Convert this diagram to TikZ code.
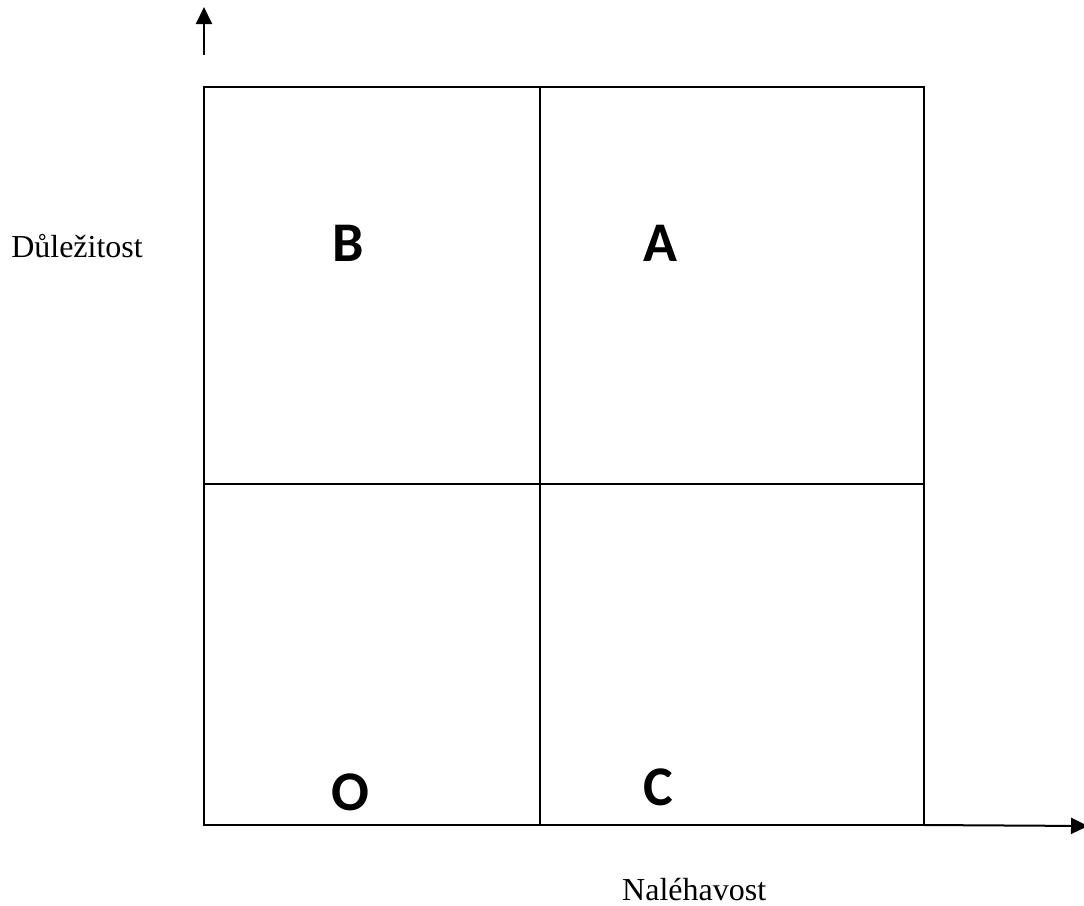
\documentclass[tikz,border=0pt]{standalone}
\usepackage{fontspec}
\setmainfont{Liberation Serif}
\newfontfamily\quadfont{Carlito}
\usetikzlibrary{arrows.meta}

\begin{document}
\begin{tikzpicture}[
  x=1pt,
  y=-1pt,
  grid line/.style={line width=2pt},
  axis arrow/.style={
    line width=2pt,
    -{Triangle[width=16pt,length=17pt]}
  },
  quadrant label/.style={
    inner sep=0pt,
    font=\quadfont\bfseries\fontsize{56}{60}\selectfont
  },
  axis label/.style={
    inner sep=0pt,
    font=\fontsize{32}{38}\selectfont
  }
]
  \useasboundingbox (0,0) rectangle (1084,905);
  \coordinate (nw) at (204,87);
  \coordinate (se) at (924,825);
  \coordinate (mid) at (540,484);
  \draw[grid line] (nw) rectangle (se);
  \draw[grid line] (nw -| mid) -- (se -| mid);
  \draw[grid line] (nw |- mid) -- (se |- mid);
  \foreach \quadName/\quadX/\quadY in {B/348/243, A/660/243, O/350/792, C/658/787} {
    \node[quadrant label] (quad \quadName) at (\quadX,\quadY) {\quadName};
  }
  \coordinate (up start) at (204,55);
  \coordinate (up end) at (204,7);
  \coordinate (right end) at (1088,826);
  \draw[axis arrow] (up start) -- (up end);
  \draw[axis arrow] (se) -- (right end);
  \node[axis label, anchor=base east] (importance) at (143,257) {Důležitost};
  \node[axis label, anchor=base west] (urgency) at (622,900) {Naléhavost};
\end{tikzpicture}
\end{document}
